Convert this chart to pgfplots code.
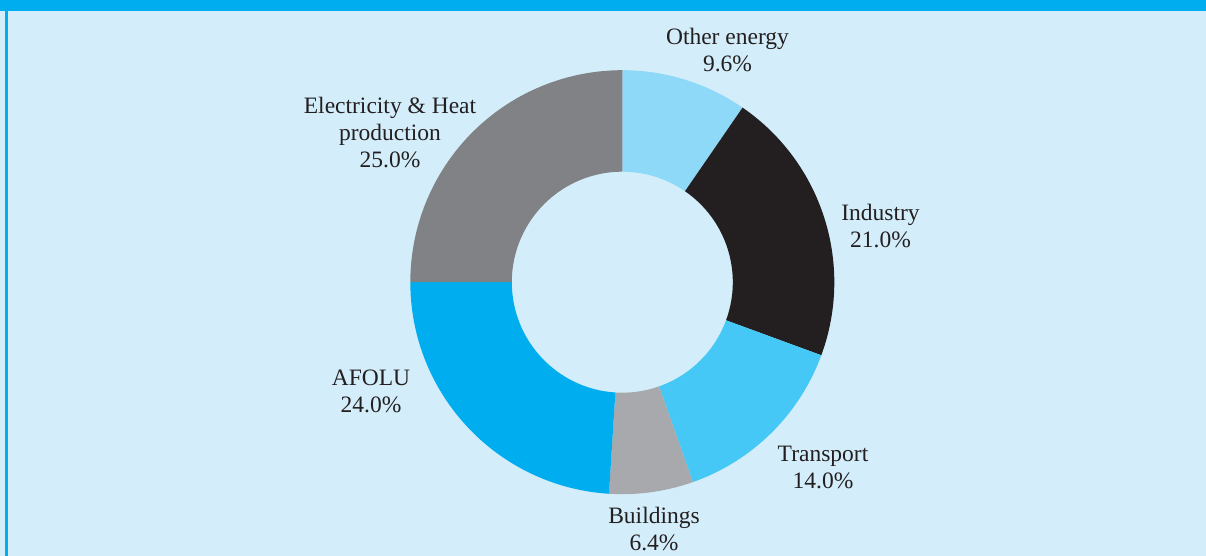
\documentclass[border=0pt]{standalone}
\usepackage{pgfplots}
\pgfplotsset{compat=1.18}
\usepackage{fontspec}
\setmainfont{Liberation Serif}
\usetikzlibrary{calc}
\definecolor{bgc}{HTML}{D3EEFA}
\definecolor{framec}{HTML}{00AEEF}
\definecolor{cOther}{HTML}{8ED8F8}
\definecolor{cIndustry}{HTML}{231F20}
\definecolor{cTransport}{HTML}{45C8F5}
\definecolor{cBuildings}{HTML}{A7A9AC}
\definecolor{cAFOLU}{HTML}{00AEEF}
\definecolor{cElec}{HTML}{808285}
\definecolor{txt}{HTML}{231F20}
% shares in percent, clockwise from the top
\def\vOther{9.6}
\def\vIndustry{21.0}
\def\vTransport{14.0}
\def\vBuildings{6.4}
\def\vAFOLU{24.0}
\def\vElec{25.0}
\pgfmathsetmacro\aA{90}
\pgfmathsetmacro\aB{\aA-3.6*\vOther}
\pgfmathsetmacro\aC{\aB-3.6*\vIndustry}
\pgfmathsetmacro\aD{\aC-3.6*\vTransport}
\pgfmathsetmacro\aE{\aD-3.6*\vBuildings}
\pgfmathsetmacro\aF{\aE-3.6*\vAFOLU}
\pgfmathsetmacro\aG{\aF-3.6*\vElec}
\def\Ro{212pt}
\def\Ri{110.5pt}
\newcommand{\donutwedge}[3]{%
  \fill[#1] (axis cs:622.3,273.8) ++(#2:\Ro) arc[start angle=#2,end angle=#3,radius=\Ro]
     -- ($(axis cs:622.3,273.8)+(#3:\Ri)$) arc[start angle=#3,end angle=#2,radius=\Ri] -- cycle;}
\begin{document}
\begin{tikzpicture}
\begin{axis}[
  width=1206pt, height=556pt, scale only axis,
  xmin=0, xmax=1206, ymin=0, ymax=556,
  hide axis, clip=true,
]
\fill[bgc] (axis cs:0,0) rectangle (axis cs:1206,556);
\fill[framec] (axis cs:0,545) rectangle (axis cs:1206,556);
\fill[framec] (axis cs:5,0) rectangle (axis cs:8,545);
\donutwedge{cOther}{\aA}{\aB}
\donutwedge{cIndustry}{\aB}{\aC}
\donutwedge{cTransport}{\aC}{\aD}
\donutwedge{cBuildings}{\aD}{\aE}
\donutwedge{cAFOLU}{\aE}{\aF}
\donutwedge{cElec}{\aF}{\aG}
\begin{scope}[every node/.style={text=txt, align=center, font=\fontsize{23.5}{27}\selectfont, inner sep=0pt}]
\node at (axis cs:727.5,506) {Other energy\\ \vOther\%};
\node at (axis cs:880.5,330) {Industry\\ \vIndustry\%};
\node at (axis cs:823,89) {Transport\\ \vTransport\%};
\node at (axis cs:654,27) {Buildings\\ \vBuildings\%};
\node at (axis cs:371,165) {AFOLU\\ \vAFOLU\%};
\node at (axis cs:390,423) {Electricity \& Heat\\ production\\ \vElec\%};
\end{scope}
\end{axis}
\end{tikzpicture}
\end{document}
